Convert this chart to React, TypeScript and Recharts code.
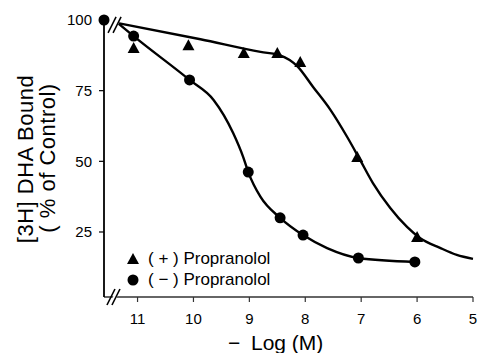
import React from 'react';
import {
  ComposedChart,
  Line,
  Scatter,
  XAxis,
  YAxis,
  ReferenceDot,
  Legend,
} from 'recharts';

const FONT = '"Liberation Sans", Arial, Helvetica, sans-serif';

// -log M ticks, % bound ticks
const xTicks = [11, 10, 9, 8, 7, 6, 5];
const yTicks = [25, 50, 75, 100];

// measured points
const plusLogM = [11.07, 10.09, 9.1, 8.5, 8.09, 7.07, 6.0];
const plusBound = [90.1, 91.1, 88.3, 88.3, 85.1, 51.5, 23.2];
const minusLogM = [11.6, 11.07, 10.07, 9.02, 8.45, 8.04, 7.05, 6.04];
const minusBound = [100, 94.3, 78.8, 46.2, 30.0, 23.9, 15.8, 14.4];

// fitted curves
const plusFitLogM = [11.35, 9.875, 8.8, 8.45, 8.14, 7.86, 7.55, 7.25, 7.02, 6.79, 6.48, 6.18, 5.95, 5.59, 5.29, 5.0];
const plusFitBound = [98.9, 93.2, 88.7, 87.5, 83.6, 76.3, 68.2, 58.6, 50.5, 42.3, 33.5, 26.8, 22.9, 19.4, 16.9, 15.5];
const minusFitLogM = [11.35, 11.07, 10.07, 9.64, 9.29, 9.11, 9.02, 8.8, 8.45, 8.04, 7.61, 7.05, 6.04];
const minusFitBound = [98.9, 94.3, 78.8, 71.7, 60.0, 51.5, 46.2, 37.4, 30.0, 23.9, 19.3, 15.8, 14.4];

const zip = (xs: number[], ys: number[]) => xs.map((x, i) => ({ x, y: ys[i] }));

const plusPoints = zip(plusLogM, plusBound);
const minusPoints = zip(minusLogM, minusBound);
const plusFit = zip(plusFitLogM, plusFitBound);
const minusFit = zip(minusFitLogM, minusFitBound);

const Triangle = ({ cx, cy }: any) => (
  <polygon
    points={`${cx},${cy - 6} ${cx - 6},${cy + 5} ${cx + 6},${cy + 5}`}
    fill="#000"
  />
);

const Dot = ({ cx, cy }: any) => <circle cx={cx} cy={cy} r={5.5} fill="#000" />;

// axis break "//"
const BreakMark = ({ cx, cy }: any) => (
  <g>
    <polygon
      points={`${cx - 4},${cy + 8} ${cx + 4},${cy - 8} ${cx + 8},${cy - 8} ${cx},${cy + 8}`}
      fill="#fff"
    />
    <line x1={cx - 6} y1={cy + 8} x2={cx + 2} y2={cy - 8} stroke="#000" strokeWidth={1.6} />
    <line x1={cx - 1} y1={cy + 8} x2={cx + 7} y2={cy - 8} stroke="#000" strokeWidth={1.6} />
  </g>
);

const renderYLabel = () => (
  <g fontFamily={FONT} fontSize={22} fill="#000" letterSpacing={0.5}>
    <text x={33} y={159} textAnchor="middle" transform="rotate(-90 33 159)">
      [3H] DHA Bound
    </text>
    <text x={55} y={158} textAnchor="middle" transform="rotate(-90 55 158)">
      ( % of Control)
    </text>
  </g>
);

const renderXLabel = () => (
  <g fontFamily={FONT} fontSize={21} fill="#000">
    <text x={228} y={350} textAnchor="start">{'\u2212'}</text>
    <text x={251} y={350} textAnchor="start">Log (M)</text>
  </g>
);

const renderLegend = () => (
  <div style={{ fontFamily: FONT, fontSize: 17, color: '#000', lineHeight: '21px' }}>
    <div style={{ display: 'flex', alignItems: 'center' }}>
      <svg width={16} height={14}>
        <polygon points="8,1 2,12 14,12" fill="#000" />
      </svg>
      <span style={{ marginLeft: 7, whiteSpace: 'pre' }}>( + ) Propranolol</span>
    </div>
    <div style={{ display: 'flex', alignItems: 'center' }}>
      <svg width={16} height={14}>
        <circle cx={8} cy={7} r={5.5} fill="#000" />
      </svg>
      <span style={{ marginLeft: 7, whiteSpace: 'pre' }}>( {'\u2212'} ) Propranolol</span>
    </div>
  </div>
);

export default function App() {
  return (
    <div style={{ position: 'absolute', left: 0, top: 0, width: 479, height: 353, background: '#fff' }}>
      <ComposedChart
        width={479}
        height={353}
        margin={{ top: 20, right: 6, bottom: 0, left: 0 }}
      >
        <XAxis
          type="number"
          dataKey="x"
          domain={[5, 11.6]}
          reversed
          ticks={xTicks}
          height={56}
          tickSize={5}
          tickMargin={11}
          axisLine={{ stroke: '#333', strokeWidth: 1.5 }}
          tickLine={{ stroke: '#333', strokeWidth: 1.2 }}
          tick={{ fill: '#000', fontSize: 15, fontFamily: FONT }}
          label={renderXLabel}
        />
        <YAxis
          type="number"
          dataKey="y"
          domain={[2, 100]}
          ticks={yTicks}
          width={104}
          tickSize={5}
          tickMargin={7}
          axisLine={{ stroke: '#000', strokeWidth: 1.8 }}
          tickLine={{ stroke: '#000', strokeWidth: 1.2 }}
          tick={{ fill: '#000', fontSize: 15, fontFamily: FONT }}
          label={renderYLabel}
        />
        <Legend
          layout="vertical"
          align="center"
          verticalAlign="middle"
          content={renderLegend}
          wrapperStyle={{ left: 125, top: 248, width: 220 }}
        />
        <Line
          data={plusFit}
          dataKey="y"
          type="monotone"
          stroke="#000"
          strokeWidth={2.4}
          dot={false}
          activeDot={false}
          legendType="none"
          isAnimationActive={false}
        />
        <Line
          data={minusFit}
          dataKey="y"
          type="monotone"
          stroke="#000"
          strokeWidth={2.4}
          dot={false}
          activeDot={false}
          legendType="none"
          isAnimationActive={false}
        />
        <Scatter data={plusPoints} dataKey="y" shape={Triangle} isAnimationActive={false} />
        <Scatter data={minusPoints} dataKey="y" shape={Dot} isAnimationActive={false} />
        <ReferenceDot x={11.42} y={98.3} r={0} shape={BreakMark} ifOverflow="visible" />
        <ReferenceDot x={11.44} y={2} r={0} shape={BreakMark} ifOverflow="visible" />
      </ComposedChart>
    </div>
  );
}
